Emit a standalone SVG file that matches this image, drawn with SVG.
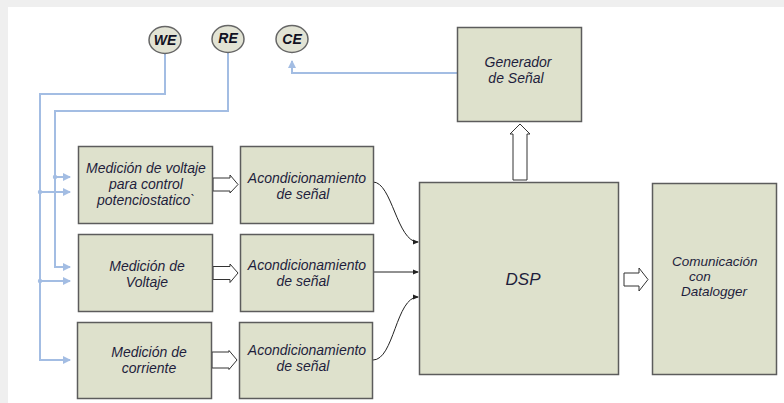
<svg xmlns="http://www.w3.org/2000/svg" width="784" height="403" viewBox="0 0 784 403">
  <style>
    .box { fill: #dee1cc; stroke: #5c5c5c; stroke-width: 1.5; }
    .term { fill: #e2e3d4; stroke: #666666; stroke-width: 1.5; }
    .lbl { font-family: "Liberation Sans", Arial, sans-serif; font-style: italic; font-size: 14px; fill: #1e1e3c; }
    .mid { text-anchor: middle; }
    .tlbl { font-family: "Liberation Sans", Arial, sans-serif; font-style: italic; font-weight: bold; font-size: 14px; fill: #111122; text-anchor: middle; }
    .wire { fill: none; stroke: #a3bde3; stroke-width: 2; }
    .sig { fill: none; stroke: #222222; stroke-width: 1; }
    .hollow { fill: #ffffff; stroke: #333333; stroke-width: 1; }
    .dot { fill: #a3bde3; }
  </style>
  <defs>
    <marker id="blueHead" markerWidth="8" markerHeight="8" refX="7" refY="4" orient="auto" markerUnits="userSpaceOnUse">
      <path d="M0,0 L8,4 L0,8 Z" fill="#a3bde3"/>
    </marker>
    <marker id="blackHead" markerWidth="6" markerHeight="6" refX="5" refY="3" orient="auto" markerUnits="userSpaceOnUse">
      <path d="M0,0.5 L6,3 L0,5.5 Z" fill="#222222"/>
    </marker>
  </defs>

  <!-- page background -->
  <rect x="0" y="0" width="784" height="403" fill="#efefef"/>
  <rect x="8" y="7" width="776" height="396" fill="#ffffff"/>

  <!-- connectors -->
  <g id="connectors">
    <!-- electrode wiring -->
    <polyline class="wire" points="165,53 165,94 40,94 40,360 70,360" marker-end="url(#blueHead)"/>
    <polyline class="wire" points="228,52 228,111 55,111 55,267 70,267" marker-end="url(#blueHead)"/>
    <line class="wire" x1="55" y1="177" x2="70" y2="177" marker-end="url(#blueHead)"/>
    <line class="wire" x1="40" y1="192" x2="70" y2="192" marker-end="url(#blueHead)"/>
    <line class="wire" x1="40" y1="281" x2="70" y2="281" marker-end="url(#blueHead)"/>
    <circle class="dot" cx="55" cy="177" r="2.2"/>
    <circle class="dot" cx="40" cy="192" r="2.2"/>
    <circle class="dot" cx="40" cy="281" r="2.2"/>
    <polyline class="wire" points="457,73 292,73 292,61" marker-end="url(#blueHead)"/>

    <!-- conditioned signals into DSP -->
    <path class="sig" d="M373,182 C392,182 397,242 418,242" marker-end="url(#blackHead)"/>
    <line class="sig" x1="373" y1="272" x2="418" y2="272" marker-end="url(#blackHead)"/>
    <path class="sig" d="M373,360 C394,360 396,297 418,297" marker-end="url(#blackHead)"/>

    <!-- block arrows -->
    <polygon class="hollow" points="213,178 230,178 230,175 238,184.5 230,193 230,191 213,191"/>
    <polygon class="hollow" points="213,266.5 230,266.5 230,264 238,273 230,282.5 230,279.5 213,279.5"/>
    <polygon class="hollow" points="212,352 229,352 229,350.5 237,360 229,369.5 229,368 212,368"/>
    <polygon class="hollow" points="513,180 513,134 510,134 520,124 530,134 527,134 527,180"/>
    <polygon class="hollow" points="624,273 639,273 639,268 648,279.5 639,291 639,286 624,286"/>
  </g>

  <!-- electrode terminals -->
  <g id="we">
    <ellipse class="term" cx="165" cy="40" rx="16" ry="13.5"/>
    <text class="tlbl" x="165" y="45">WE</text>
  </g>
  <g id="re">
    <ellipse class="term" cx="228" cy="39" rx="16" ry="13.5"/>
    <text class="tlbl" x="228" y="43">RE</text>
  </g>
  <g id="ce">
    <ellipse class="term" cx="292" cy="39" rx="16" ry="13.5"/>
    <text class="tlbl" x="292" y="44">CE</text>
  </g>

  <!-- measurement stages -->
  <g id="med-pot">
    <rect class="box" x="78.5" y="146.5" width="134" height="77"/>
    <text class="lbl mid" x="146" y="173">Medición de voltaje</text>
    <text class="lbl mid" x="146" y="189">para control</text>
    <text class="lbl mid" x="146" y="205">potenciostatico`</text>
  </g>
  <g id="med-volt">
    <rect class="box" x="78.5" y="234.5" width="134" height="77"/>
    <text class="lbl mid" x="147" y="271">Medición de</text>
    <text class="lbl mid" x="147" y="287">Voltaje</text>
  </g>
  <g id="med-corr">
    <rect class="box" x="77.5" y="322.5" width="134" height="76"/>
    <text class="lbl mid" x="149" y="357">Medición de</text>
    <text class="lbl mid" x="149" y="373">corriente</text>
  </g>

  <!-- signal conditioning -->
  <g id="acond-1">
    <rect class="box" x="240.5" y="146.5" width="133" height="77"/>
    <text class="lbl mid" x="307" y="183">Acondicionamiento</text>
    <text class="lbl mid" x="303" y="199">de señal</text>
  </g>
  <g id="acond-2">
    <rect class="box" x="240.5" y="234.5" width="133" height="77"/>
    <text class="lbl mid" x="307" y="270">Acondicionamiento</text>
    <text class="lbl mid" x="303" y="286">de señal</text>
  </g>
  <g id="acond-3">
    <rect class="box" x="239.5" y="322.5" width="133" height="76"/>
    <text class="lbl mid" x="307" y="355">Acondicionamiento</text>
    <text class="lbl mid" x="303" y="371">de señal</text>
  </g>

  <!-- signal generator -->
  <g id="generador">
    <rect class="box" x="457.5" y="27.5" width="124" height="94"/>
    <text class="lbl mid" x="518" y="67">Generador</text>
    <text class="lbl mid" x="516" y="83">de Señal</text>
  </g>

  <!-- processor -->
  <g id="dsp">
    <rect class="box" x="419.5" y="182.5" width="199" height="192"/>
    <text class="lbl mid" x="523" y="285" style="font-size:17px">DSP</text>
  </g>

  <!-- datalogger link -->
  <g id="comunicacion">
    <rect class="box" x="652.5" y="183.5" width="124" height="191"/>
    <text class="lbl" x="672" y="266" style="font-size:13.5px">Comunicación</text>
    <text class="lbl" x="689" y="281" style="font-size:13.5px">con</text>
    <text class="lbl" x="681" y="296" style="font-size:13.5px">Datalogger</text>
  </g>
</svg>
